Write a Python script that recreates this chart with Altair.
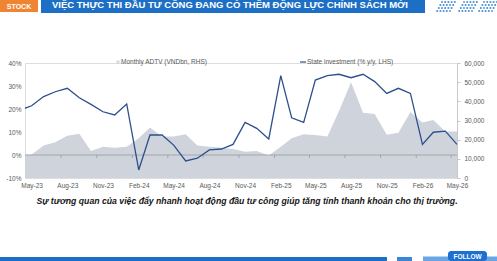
import altair as alt
import pandas as pd

# ---------------- data ----------------
months = [d.strftime("%Y-%m-%d") for d in pd.date_range("2023-04-01", "2026-05-01", freq="MS")]
state_investment_pct = [19.5, 21.4, 25.4, 27.5, 29.0, 24.9, 22.0, 18.8, 17.4, 22.2,
                        -6.5, 8.7, 8.7, 4.3, -2.6, -1.4, 2.2, 2.6, 4.6, 14.2,
                        11.6, 7.0, 34.5, 16.2, 14.2, 32.6, 34.5, 35.1, 33.6, 35.1,
                        31.9, 26.8, 29.0, 26.8, 4.6, 9.9, 10.4, 4.6]
adtv_vnd_bn = [12000, 12200, 16900, 18600, 22100, 23100, 14100, 16300, 15800, 16300,
               20700, 26300, 21600, 21600, 22800, 16900, 16300, 15800, 15100, 13700,
               14100, 11800, 16300, 20700, 22800, 22400, 21600, 35000, 50000, 34000,
               33400, 22600, 23600, 34500, 29000, 30300, 24200, 24200]
x_tick_labels = ["May-23", "Aug-23", "Nov-23", "Feb-24", "May-24", "Aug-24", "Nov-24",
                 "Feb-25", "May-25", "Aug-25", "Nov-25", "Feb-26", "May-26"]
left_ticks = [-10, 0, 10, 20, 30, 40]
right_ticks = [0, 10000, 20000, 30000, 40000, 50000, 60000]
minor_tick_dates = [d.strftime("%Y-%m-16") for d in pd.date_range("2023-07-01", "2026-04-01", freq="3MS")]

title_text = "VIỆC THỰC THI ĐẦU TƯ CÔNG ĐANG CÓ THÊM ĐỘNG LỰC CHÍNH SÁCH MỚI"
caption_text = "Sự tương quan của việc đẩy nhanh hoạt động đầu tư công giúp tăng tính thanh khoản cho thị trường."
legend_area = "Monthly ADTV (VNDbn, RHS)"
legend_line = "State investment (% y/y, LHS)"

df = pd.DataFrame({"date": months, "pct": state_investment_pct, "adtv": adtv_vnd_bn})
ticks_df = pd.DataFrame({"date": minor_tick_dates})
one = pd.DataFrame({"a": [0]})

FONT = "Liberation Sans"
LINE_C = "#2d4f8c"
AREA_C = "#cfd4dc"
BLUE = "#1c6fc4"
ORANGE = "#ef8533"
TXT = "#595959"

def dt(s):
    d = pd.Timestamp(s)
    return alt.DateTime(year=d.year, month=d.month, date=d.day, utc=True)

xscale = alt.Scale(type="utc", domain=[dt("2023-04-14"), dt("2026-05-01")])
label_dates = [dt(pd.to_datetime(l, format="%b-%y")) for l in x_tick_labels]
pct_scale = alt.Scale(domain=[-10, 40])

x_axis = alt.Axis(values=label_dates, labelExpr="utcFormat(datum.value, '%b-%y')",
                  domain=False, ticks=False, labelPadding=4, labelFontSize=6.5,
                  labelColor=TXT, labelFont=FONT, grid=False, title=None,
                  labelFlush=False, labelOverlap=False, labelBound=False)
pct_axis = alt.Axis(orient="left", values=left_ticks, labelExpr="datum.value + '%'",
                    domain=False, ticks=False, labelPadding=4, labelFontSize=6.5,
                    labelColor=TXT, labelFont=FONT, grid=False, title=None,
                    labelFlush=False, labelOverlap=False)
adtv_axis = alt.Axis(orient="right", values=right_ticks, labelExpr="format(datum.value, ',')",
                     labelFontSize=6.5, labelColor=TXT, labelFont=FONT, domainColor="#c8c8c8",
                     tickColor="#c8c8c8", tickSize=3, labelPadding=4, grid=False, title=None,
                     labelFlush=False, labelOverlap=False)

area = alt.Chart(df).mark_area(color=AREA_C, clip=True).encode(
    x=alt.X("date:T", scale=xscale, axis=x_axis),
    y=alt.Y("adtv:Q", scale=alt.Scale(domain=[0, 60000]), axis=adtv_axis),
)

zero_rule = alt.Chart(one).mark_rule(color="#9a9a9a", strokeWidth=0.8).encode(
    y=alt.YDatum(0, scale=pct_scale, axis=pct_axis)
)
minor_ticks = alt.Chart(ticks_df).mark_rule(color="#9a9a9a", strokeWidth=0.8).encode(
    x=alt.X("date:T", scale=xscale, axis=x_axis),
    y=alt.YDatum(0, scale=pct_scale, axis=pct_axis),
    y2=alt.Y2Datum(-1.3),
)
line = alt.Chart(df).mark_line(color=LINE_C, strokeWidth=1.3, clip=True).encode(
    x=alt.X("date:T", scale=xscale, axis=x_axis),
    y=alt.Y("pct:Q", scale=pct_scale, axis=pct_axis),
)
inner = alt.layer(zero_rule, minor_ticks, line)

# ---------------- decorations (pixel positions relative to plot origin) ----------------
def rect(x1, x2, y1, y2, color, r=0):
    return alt.Chart(one).mark_rect(color=color, cornerRadius=r).encode(
        x=alt.value(x1), x2=alt.value(x2), y=alt.value(y1), y2=alt.value(y2))

def text(t, x, y, size, color, weight="normal", style="normal", align="left"):
    return alt.Chart(one).mark_text(text=t, fontSize=size, color=color, font=FONT,
                                    fontWeight=weight, fontStyle=style, align=align,
                                    baseline="middle").encode(x=alt.value(x), y=alt.value(y))

banner_orange = rect(-25, 13, -63, -51, ORANGE)
banner_blue = rect(16, 400, -63, -50, BLUE)
stock_txt = text("STOCK", -6, -56, 7, "white", weight="bold", align="center")
title_txt = alt.Chart(one).mark_text(text=title_text, fontSize=9.5, color="white", font=FONT,
                                     fontWeight="bold", align="left", baseline="alphabetic").encode(
    x=alt.value(27), y=alt.value(-55))

# dotted parallelogram icons, top right
dots = []
for gx in [417, 439, 459]:
    for r in range(4):
        for c in range(5):
            dots.append({"px": gx + c * 3.2 - r * 1.6, "py": -61 + r * 3})
dots_df = pd.DataFrame(dots)
dots_layer = alt.Chart(dots_df).mark_square(color="#2a7fd0", size=3, opacity=0.9).encode(
    x=alt.X("px:Q", scale=None), y=alt.Y("py:Q", scale=None))

leg_sq = alt.Chart(one).mark_square(color="#c4c9d1", size=9).encode(x=alt.value(93), y=alt.value(-1))
leg_txt1 = text(legend_area, 96, -1, 6.5, TXT)
leg_ln = alt.Chart(one).mark_rule(color=LINE_C, strokeWidth=1.2).encode(
    x=alt.value(275), x2=alt.value(281), y=alt.value(-1))
leg_txt2 = text(legend_line, 282, -1, 6.5, TXT)

caption = text(caption_text, 222, 137.5, 8.7, "#151515", weight="bold", style="italic", align="center")

bottom_bar = rect(-25, 362, 194, 198, BLUE)
bottom_piece = rect(372, 387, 194, 198, "#3a86d6")
bottom_light = rect(398, 472, 193.5, 198, "#6aa5e6")
follow_btn = rect(423, 462, 188, 198, "#1d6fd0", r=3)
follow_txt = text("FOLLOW", 442.5, 193.5, 6.5, "white", weight="bold", align="center")

chart = alt.layer(
    area, inner,
    banner_orange, banner_blue, stock_txt, title_txt, dots_layer,
    leg_sq, leg_txt1, leg_ln, leg_txt2, caption,
    bottom_bar, bottom_piece, bottom_light, follow_btn, follow_txt,
).resolve_scale(y="independent").properties(
    width=432, height=115,
    autosize=alt.AutoSizeParams(type="none"),
    padding={"left": 25, "top": 63, "right": 40, "bottom": 83},
).configure_view(stroke=None).configure(background="white")

chart.save("out.html", embed_options={"renderer": "svg", "actions": False})
